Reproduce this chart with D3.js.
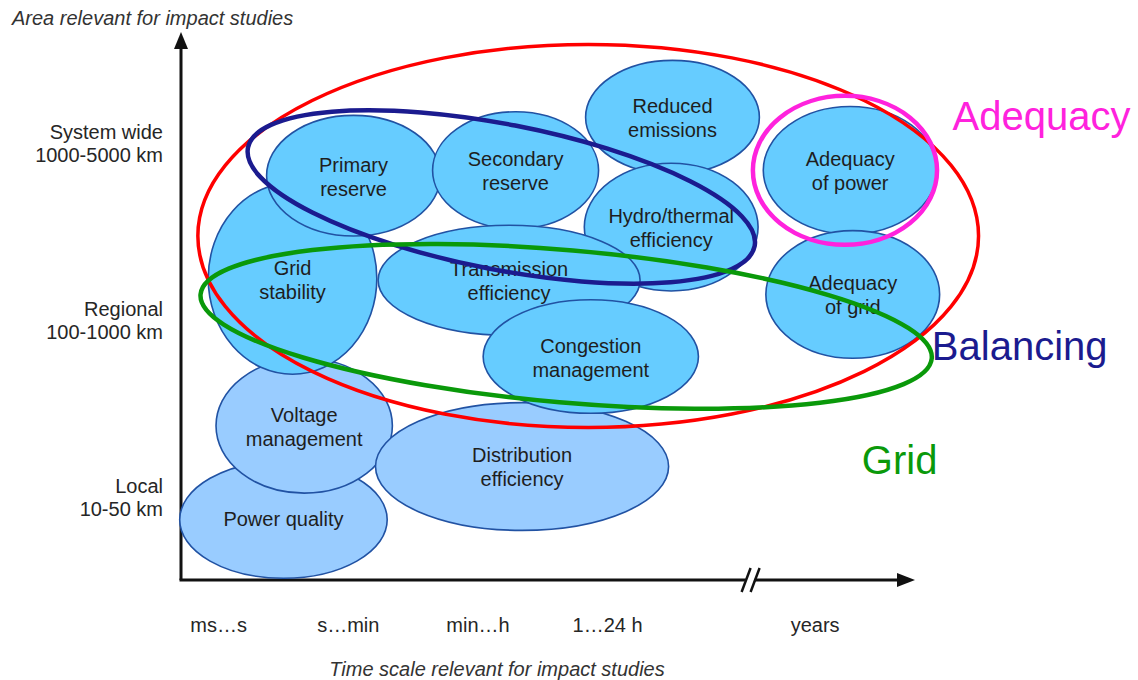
<!DOCTYPE html>
<html>
<head>
<meta charset="utf-8">
<script src="https://cdn.jsdelivr.net/npm/d3@7"></script>
<style>
  body { margin: 0; background: #fff; }
  svg { display: block; font-family: "Liberation Sans", Arial, sans-serif; }
</style>
</head>
<body>
<svg width="1138" height="680"></svg>
<script>
// time scale categories (x axis) and area categories (y axis)
const timeLabels = ["ms…s", "s…min", "min…h", "1…24 h", "years"];
const timeSteps = [0, 1, 2, 3, 4.6];
const areaLabels = [["System wide", "1000-5000 km"], ["Regional", "100-1000 km"], ["Local", "10-50 km"]];
const areaSteps = [2, 1, 0];

// impact study topics, in drawing order (time / area in axis units)
const topics = [["Power quality"], ["Voltage", "management"], ["Grid", "stability"], ["Distribution", "efficiency"],
  ["Primary", "reserve"], ["Secondary", "reserve"], ["Reduced", "emissions"], ["Hydro/thermal", "efficiency"],
  ["Transmission", "efficiency"], ["Congestion", "management"], ["Adequacy", "of power"], ["Adequacy", "of grid"]];
const topicTime = [0.50, 0.66, 0.57, 2.34, 1.04, 2.29, 3.50, 3.49, 2.24, 2.87, 4.87, 4.89];
const topicArea = [-0.11, 0.42, 1.25, 0.19, 1.83, 1.86, 2.16, 1.54, 1.24, 0.81, 1.86, 1.16];
const topicTimeSpan = [0.80, 0.68, 0.65, 1.13, 0.67, 0.64, 0.67, 0.67, 1.01, 0.83, 0.67, 0.67];
const topicAreaSpan = [0.33, 0.38, 0.54, 0.36, 0.34, 0.33, 0.32, 0.36, 0.31, 0.32, 0.36, 0.36];
const topicLevel = ["local", "local", "wide", "local", "wide", "wide", "wide", "wide", "wide", "wide", "wide", "wide"];

// grouping outlines
const groups = ["outer", "Balancing", "Grid", "Adequacy"];
const groupTime = [2.85, 2.18, 2.68, 4.83];
const groupArea = [1.49, 1.71, 0.98, 1.86];
const groupTimeSpan = [3.01, 1.99, 2.83, 0.71];
const groupAreaSpan = [1.08, 0.41, 0.43, 0.42];
const groupTilt = [0, 11, 5, 0];

const timeExtent = [-0.29, 5.37];
const areaExtent = [-0.45, 2.64];
const breakAt = 4.11;

const svg = d3.select("svg");

const x = d3.scaleLinear().domain(timeExtent).range([181, 915]);
const y = d3.scaleLinear().domain(areaExtent).range([580, 32]);

const fill = d3.scaleOrdinal().domain(["local", "wide"]).range(["#99ccff", "#66ccff"]);
const ring = d3.scaleOrdinal().domain(groups).range(["#ff0000", "#1b1b8f", "#0a990a", "#ff22dd"]);

const topicData = topics.map((lines, i) => ({
  lines, level: topicLevel[i],
  cx: x(topicTime[i]), cy: y(topicArea[i]),
  rx: x(topicTime[i] + topicTimeSpan[i]) - x(topicTime[i]),
  ry: y(topicArea[i]) - y(topicArea[i] + topicAreaSpan[i])
}));

const groupData = groups.map((name, i) => ({
  name, tilt: groupTilt[i],
  cx: x(groupTime[i]), cy: y(groupArea[i]),
  rx: x(groupTime[i] + groupTimeSpan[i]) - x(groupTime[i]),
  ry: y(groupArea[i]) - y(groupArea[i] + groupAreaSpan[i])
}));

/* ----------- axes ----------- */

const ax = svg.append("g");
const x0 = x(timeExtent[0]), y0 = y(areaExtent[0]);

ax.append("line")
  .attr("x1", x0).attr("y1", y0)
  .attr("x2", x0).attr("y2", y(areaExtent[1]) + 12)
  .attr("stroke", "#111").attr("stroke-width", 3);
ax.append("path")
  .attr("d", `M${x0},${y(areaExtent[1])} L${x0 - 7},${y(areaExtent[1]) + 17} L${x0 + 7},${y(areaExtent[1]) + 17} Z`)
  .attr("fill", "#111");

ax.append("line")
  .attr("x1", x0 - 1.5).attr("y1", y0)
  .attr("x2", x(timeExtent[1]) - 12).attr("y2", y0)
  .attr("stroke", "#111").attr("stroke-width", 3);
ax.append("path")
  .attr("d", `M${x(timeExtent[1])},${y0} L${x(timeExtent[1]) - 18},${y0 - 7} L${x(timeExtent[1]) - 18},${y0 + 7} Z`)
  .attr("fill", "#111");

// axis break "//"
const bx = x(breakAt);
ax.append("path")
  .attr("d", `M${bx - 5},${y0 - 4} L${bx + 4},${y0 - 4} L${bx + 1},${y0 + 4} L${bx - 8},${y0 + 4} Z`)
  .attr("fill", "#fff");
ax.selectAll("line.brk").data([-5, 4]).enter().append("line")
  .attr("class", "brk")
  .attr("x1", d => bx + d - 5).attr("y1", y0 + 12)
  .attr("x2", d => bx + d + 4).attr("y2", y0 - 12)
  .attr("stroke", "#111").attr("stroke-width", 2.5);

// tick labels
ax.selectAll("text.tx").data(timeLabels).enter().append("text")
  .attr("class", "tx")
  .attr("x", (d, i) => x(timeSteps[i]))
  .attr("y", 632)
  .attr("text-anchor", "middle")
  .attr("font-size", 20)
  .attr("fill", "#262626")
  .text(d => d);

const ty = ax.selectAll("text.ty").data(areaLabels).enter().append("text")
  .attr("class", "ty")
  .attr("text-anchor", "end")
  .attr("font-size", 20)
  .attr("fill", "#262626");
ty.selectAll("tspan").data((d, i) => d.map(t => ({ t, i }))).enter().append("tspan")
  .attr("x", x0 - 18)
  .attr("y", (d, j) => y(areaSteps[d.i]) - 7 + j * 23)
  .text(d => d.t);

ax.append("text")
  .attr("x", 12).attr("y", 25)
  .attr("font-size", 20).attr("font-style", "italic")
  .attr("fill", "#333")
  .text("Area relevant for impact studies");

ax.append("text")
  .attr("x", 497).attr("y", 676)
  .attr("text-anchor", "middle")
  .attr("font-size", 20).attr("font-style", "italic")
  .attr("fill", "#333")
  .text("Time scale relevant for impact studies");

/* ----------- topic ellipses ----------- */

const topic = svg.append("g").selectAll("g").data(topicData).enter().append("g");

topic.append("ellipse")
  .attr("cx", d => d.cx).attr("cy", d => d.cy)
  .attr("rx", d => d.rx).attr("ry", d => d.ry)
  .attr("fill", d => fill(d.level))
  .attr("stroke", "#2152a3")
  .attr("stroke-width", 1.6);

topic.append("text")
  .attr("text-anchor", "middle")
  .attr("font-size", 20)
  .attr("fill", "#1e1e1e")
  .selectAll("tspan").data(d => d.lines.map((t, j) => ({ t, j, d }))).enter().append("tspan")
  .attr("x", e => e.d.cx)
  .attr("y", e => e.d.lines.length === 1 ? e.d.cy + 6 : e.d.cy - 4 + e.j * 24)
  .text(e => e.t);

/* ----------- group outlines ----------- */

svg.append("g").selectAll("ellipse").data(groupData).enter().append("ellipse")
  .attr("cx", d => d.cx).attr("cy", d => d.cy)
  .attr("rx", d => d.rx).attr("ry", d => d.ry)
  .attr("transform", d => `rotate(${d.tilt},${d.cx},${d.cy})`)
  .attr("fill", "none")
  .attr("stroke", d => ring(d.name))
  .attr("stroke-width", d => d.name === "outer" ? 3.5 : 4.5);

// group names, placed to the right of the diagram
const groupLabelAt = { Adequacy: [5.66, 2.09], Balancing: [5.50, 0.79], Grid: [4.96, 0.15] };

svg.append("g").selectAll("text").data(groups.filter(g => groupLabelAt[g])).enter().append("text")
  .attr("x", d => x(groupLabelAt[d][0]))
  .attr("y", d => y(groupLabelAt[d][1]))
  .attr("font-size", 40)
  .attr("fill", d => ring(d))
  .text(d => d);
</script>
</body>
</html>
